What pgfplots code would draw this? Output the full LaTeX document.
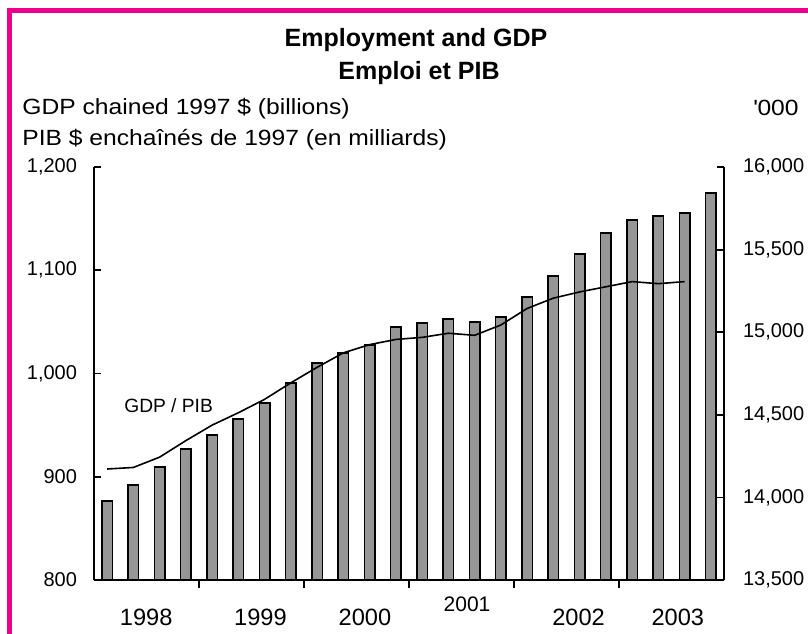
\documentclass[border=0pt]{standalone}
\usepackage{fontspec}
\setmainfont{Liberation Sans}
\newfontfamily\widefont{Liberation Sans}[FakeStretch=1.12]
\usepackage{pgfplots}
\pgfplotsset{compat=1.18}
\definecolor{pinkframe}{RGB}{236,0,140}
\definecolor{bargray}{RGB}{150,150,150}

\begin{document}
\begin{tikzpicture}
\pgfplotsset{
  twin/.style={
    scale only axis, width=315pt, height=206.5pt,
    at={(0,0)}, anchor=south west,
    xmin=0.5, xmax=24.5,
    tick align=inside,
    major tick length=3.5pt,
    axis line style={line width=0.9pt},
    every tick/.style={line width=0.9pt, black},
    scaled y ticks=false,
    /pgf/number format/1000 sep={,},
    /pgf/number format/assume math mode=true,
    yticklabel style={font=\fontsize{10}{12}\selectfont},
  },
}

% employment ('000), right axis, bars
\begin{axis}[twin,
  axis y line*=right, axis x line*=bottom,
  ymin=13500, ymax=16000, ytick={13500,14000,...,16000},
  yticklabel style={xshift=6pt},
  xtick={2.49,6.84,10.82,14.71,18.96,22.74},
  xticklabels={1998,1999,2000,\raisebox{7pt}{\fontsize{10.5}{12}\selectfont 2001},2002,2003},
  xticklabel style={anchor=base, yshift=-19pt, font=\fontsize{11.8}{14}\selectfont},
  major x tick style={draw=none},
  minor xtick={4.5,8.5,12.5,16.5,20.5},
  minor tick length=4pt,
  ybar, bar width=5.25pt,
]
\addplot[draw=black, fill=bargray, line width=0.8pt] coordinates {
  (1,13978) (2,14075) (3,14184) (4,14293) (5,14377) (6,14474)
  (7,14571) (8,14692) (9,14813) (10,14873) (11,14922) (12,15031)
  (13,15055) (14,15079) (15,15061) (16,15091) (17,15212) (18,15339)
  (19,15472) (20,15599) (21,15678) (22,15702) (23,15720) (24,15841)
};
\end{axis}

% GDP, left axis, line
\begin{axis}[twin,
  axis y line*=left, axis x line=none,
  ymin=800, ymax=1200, ytick={800,900,...,1200},
  yticklabel style={xshift=-5pt},
]
\addplot[black, line width=0.8pt, no markers] coordinates {
  (1,907.5) (2,909) (3,919) (4,935) (5,950) (6,962)
  (7,975) (8,991) (9,1006) (10,1020) (11,1028) (12,1033)
  (13,1035) (14,1039) (15,1037) (16,1047) (17,1063) (18,1073)
  (19,1079) (20,1084) (21,1089) (22,1087) (23,1089)
};
\node[anchor=base west, inner sep=0, font=\fontsize{9.6}{11}\selectfont]
  at (axis cs:1.64,962) {GDP / PIB};
\end{axis}

\node[anchor=base, font=\fontsize{12.5}{15}\selectfont\bfseries] at (161pt,266.5pt) {Employment and GDP};
\node[anchor=base, font=\fontsize{12.5}{15}\selectfont\bfseries] at (162.5pt,250pt) {Emploi et PIB};
\node[anchor=base west, inner sep=0, font=\fontsize{11}{13}\selectfont] at (-36pt,232.5pt) {\widefont GDP chained 1997 \$ (billions)};
\node[anchor=base west, inner sep=0, font=\fontsize{11}{13}\selectfont] at (-36pt,217pt) {\widefont PIB \$ enchaînés de 1997 (en milliards)};
\node[anchor=base east, inner sep=0, font=\fontsize{11}{13}\selectfont] at (352.5pt,232pt) {\widefont\textquotesingle 000};

\draw[pinkframe, line width=2.35pt] (-42.25pt,-40pt) -- (-42.25pt,284.75pt) -- (370pt,284.75pt);

\pgfresetboundingbox
\useasboundingbox (-47pt,-26.5pt) rectangle (357pt,290pt);
\end{tikzpicture}
\end{document}
